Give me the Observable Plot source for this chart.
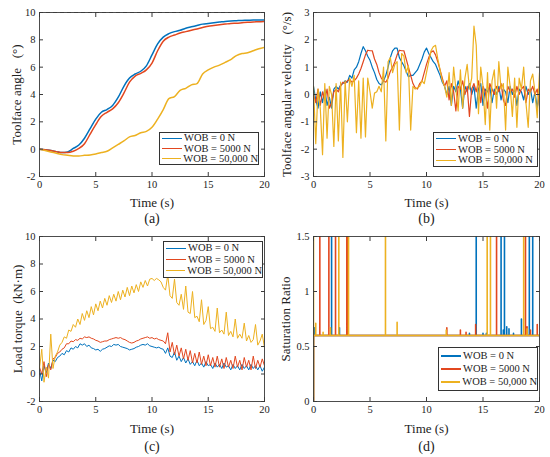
<!DOCTYPE html>
<html><head><meta charset="utf-8">
<script src="https://cdn.jsdelivr.net/npm/d3@7"></script>
<script src="https://cdn.jsdelivr.net/npm/@observablehq/plot@0.6"></script>
<style>
body{margin:0;background:#fff;}
#root{position:relative;width:550px;height:457px;font-family:"Liberation Serif","Times New Roman","Tinos","DejaVu Serif",serif;color:#222;overflow:hidden;}
#root svg, #root svg text{font-family:"Liberation Serif","Times New Roman","Tinos","DejaVu Serif",serif;}
.panel{position:absolute;}
.legend{position:absolute;border:1px solid #333;background:#fff;box-sizing:border-box;display:flex;flex-direction:column;justify-content:space-evenly;font-size:10.5px;line-height:10px;white-space:nowrap;}
.row{display:flex;align-items:center;height:10px;}
.sw{display:inline-block;width:20px;margin:0 2px 0 2px;}
</style></head><body><div id="root"></div>
<script>
// ---------- shared ----------
const series = ["WOB = 0 N", "WOB = 5000 N", "WOB = 50,000 N"];
const colors = ["#0072BD", "#E2471F", "#EDB120"];
const xTicks = [0, 5, 10, 15, 20];
const FONT = '"Liberation Serif", "Times New Roman", Tinos, "DejaVu Serif", serif';

// ---------- (a) Toolface angle ----------
const aTime = [0,0.5,1,1.5,2,2.5,3,3.5,4,4.5,5,5.5,6,6.5,7,7.5,8,8.5,9,9.5,10,10.5,11,11.5,12,12.5,13,13.5,14,14.5,15,15.5,16,16.5,17,17.5,18,18.5,19,19.5,20];
const aBlue = [0,-0.05,-0.1,-0.18,-0.25,-0.2,0.05,0.3,0.8,1.5,2.2,2.7,2.9,3.2,3.8,4.6,5.2,5.5,5.7,6.1,6.9,7.7,8.2,8.45,8.6,8.7,8.85,8.95,9.05,9.15,9.2,9.25,9.3,9.35,9.38,9.4,9.42,9.43,9.45,9.45,9.45];
const aRed = [0,-0.05,-0.1,-0.18,-0.25,-0.25,-0.15,0.05,0.4,1.1,1.8,2.4,2.7,2.95,3.4,4.1,4.9,5.35,5.55,5.8,6.3,7.2,7.9,8.2,8.35,8.5,8.6,8.7,8.8,8.9,9.0,9.05,9.1,9.15,9.2,9.22,9.25,9.28,9.3,9.33,9.35];
const aYellow = [0,-0.1,-0.2,-0.3,-0.4,-0.45,-0.5,-0.5,-0.45,-0.42,-0.35,-0.25,-0.15,0.1,0.35,0.6,0.9,1.0,1.2,1.3,1.6,2.2,2.9,3.7,3.85,4.3,4.45,4.7,4.8,5.5,5.8,6.0,6.15,6.35,6.55,6.85,7.0,7.05,7.2,7.35,7.45];
const aRef = [10];
const aYTicks = [-2, 0, 2, 4, 6, 8, 10];

// ---------- (b) Toolface angular velocity (sampled every 0.2 s) ----------
const bTime = d3.range(101).map(i => i / 5);
const bBlue = [
 0.3,-0.2,-0.5,0.1,-0.3,0.2,-0.4,-0.1,-0.5,0.2,
 0.3,0.2,0.35,0.4,0.5,0.45,0.7,0.6,0.9,1.0,
 1.2,1.5,1.75,1.6,1.4,1.25,1.0,0.8,0.55,0.4,
 0.35,0.5,0.7,1.0,1.35,1.6,1.7,1.7,1.35,1.2,
 1.05,0.85,0.65,0.7,0.7,0.8,0.9,1.1,1.3,1.55,
 1.7,1.5,1.35,1.2,1.1,0.9,0.7,0.45,0.3,0.0,
 0.3,-0.4,0.3,0.1,0.5,0.2,-0.5,0.3,0.1,0.4,
 0.0,0.3,-0.5,0.2,0.4,-0.4,0.2,0.1,0.3,-0.3,
 0.2,0.0,0.3,-0.2,0.2,0.1,-0.3,0.3,0.0,0.2,
 -0.4,0.2,0.1,-0.2,0.3,0.0,0.2,-0.3,0.1,-0.5,
 0.2];
const bRed = [
 0.0,-0.3,0.2,-0.4,0.1,-0.2,0.2,-0.5,-0.3,0.1,
 0.2,0.1,0.3,0.45,0.4,0.5,0.55,0.45,0.5,0.6,
 0.75,0.95,1.2,1.45,1.62,1.6,1.6,1.3,1.1,0.8,
 0.6,0.5,0.45,0.6,0.85,1.0,1.2,1.45,1.62,1.6,
 1.6,1.3,1.0,0.7,0.4,0.25,0.2,0.4,0.5,0.8,
 1.1,1.35,1.55,1.6,1.45,1.2,0.9,0.6,0.3,0.5,
 -0.2,0.4,0.1,-0.6,0.3,0.2,0.5,0.0,0.3,-0.8,
 0.2,0.4,0.1,0.5,-0.3,0.3,0.1,-0.5,0.4,0.2,
 0.0,0.3,0.1,0.4,-0.2,-0.4,0.3,0.1,0.2,-0.1,
 0.3,0.0,0.2,0.3,-0.3,0.2,0.1,0.3,0.0,0.2,
 -0.4];
const bYellow = [
 0.3,-1.8,0.2,-0.5,-2.2,0.4,-1.6,0.3,0.0,-1.9,
 0.4,-1.7,0.45,-2.3,0.5,-1.0,0.6,0.3,0.7,-1.4,
 0.5,-1.6,0.6,-1.55,0.6,0.1,-0.5,0.05,0.1,0.3,
 0.1,1.0,-1.7,1.2,1.35,0.8,1.1,1.2,-1.3,1.5,
 1.4,0.8,1.05,-1.3,0.3,0.2,0.25,0.3,0.5,0.4,
 0.8,1.2,1.6,1.75,1.8,1.3,0.9,0.5,0.3,-0.1,
 0.8,-0.4,1.0,0.2,-0.6,0.9,-0.5,0.6,1.1,0.2,
 0.6,2.5,1.8,-0.7,1.0,0.3,-1.1,0.8,-1.3,0.5,
 0.9,-0.5,1.2,0.2,0.4,-1.3,1.0,0.3,-0.8,0.6,
 -1.2,0.6,0.2,1.0,-0.3,-1.2,0.5,0.75,0.1,-0.85,
 0.8];
const bYTicks = [-3, -2, -1, 0, 1, 2, 3];

// ---------- (c) Load torque (sampled every 0.2 s) ----------
const cTime = d3.range(101).map(i => i / 5);
const cBlue = [
 0.3,-0.5,0.6,0.1,0.8,0.4,1.0,0.9,1.2,1.3,
 1.5,1.4,1.7,1.6,1.9,1.8,2.0,1.9,2.2,2.1,
 2.2,2.0,2.1,1.9,1.85,1.75,1.8,1.65,1.8,1.85,
 1.95,2.05,2.0,2.15,2.1,2.15,2.0,1.95,1.9,1.85,
 1.75,1.8,1.85,1.95,2.0,2.1,2.15,2.1,2.2,2.05,
 2.0,1.95,1.9,1.95,1.85,1.8,1.5,1.9,1.3,1.2,
 1.6,1.0,1.3,0.9,1.2,0.8,1.1,0.7,0.9,0.6,
 1.0,0.6,0.8,0.5,0.9,0.6,0.7,0.4,0.8,0.5,
 0.7,0.4,0.8,0.5,0.6,0.3,0.7,0.4,0.6,0.3,
 0.7,0.4,0.6,0.3,0.7,0.4,0.6,0.3,0.6,0.2,
 0.5];
const cRed = [
 0.5,0.0,0.9,-0.2,0.7,0.3,1.1,1.2,1.5,1.6,
 1.8,1.9,2.2,2.2,2.4,2.35,2.5,2.45,2.6,2.55,
 2.7,2.65,2.7,2.6,2.55,2.45,2.4,2.3,2.35,2.4,
 2.4,2.5,2.55,2.6,2.65,2.6,2.65,2.55,2.5,2.4,
 2.3,2.25,2.3,2.4,2.45,2.55,2.6,2.65,2.7,2.6,
 2.65,2.55,2.6,2.5,2.45,2.4,2.2,3.0,1.6,2.3,
 1.4,2.1,1.3,1.9,1.1,1.8,1.0,1.7,0.8,1.5,
 0.8,1.6,0.7,1.3,0.6,1.4,0.6,1.2,0.5,1.3,
 0.5,1.1,0.4,1.2,0.5,1.0,0.4,1.3,0.5,1.0,
 0.3,1.2,0.5,1.0,0.3,1.3,0.4,1.0,0.5,1.1,
 0.6];
const cYellow = [
 0.4,1.8,-0.6,0.5,-0.3,2.9,0.4,1.3,1.6,2.1,
 2.3,2.7,2.6,3.2,3.1,3.6,3.4,4.0,3.6,4.4,
 3.9,4.6,4.1,4.9,4.3,5.1,4.6,5.3,4.8,5.5,
 5.0,5.7,5.2,5.8,5.3,6.0,5.4,6.1,5.6,6.3,
 5.7,6.4,5.9,6.5,6.0,6.7,6.3,6.8,6.4,6.9,
 6.95,6.8,6.95,6.85,6.7,6.3,6.1,7.2,5.7,5.5,
 6.9,5.2,5.0,5.8,4.7,6.4,4.5,4.4,6.0,4.1,
 4.2,3.8,5.4,3.6,3.9,4.9,3.3,3.4,3.1,4.8,
 3.0,3.2,2.9,4.5,2.8,3.1,2.7,4.0,2.6,2.9,
 2.6,3.7,2.4,2.8,2.3,2.5,3.6,2.1,2.4,2.9,
 1.9];
const cYTicks = [-2, 0, 2, 4, 6, 8, 10];

// ---------- (d) Saturation ratio: baseline with spikes ----------
const dBaseline = 0.6;
const dStart = 0;
const dBlueTime = [0.1,1.6,2.3,13.8,14.4,15.0,15.3,16.6,16.8,16.9,17.1,17.3,17.7,18.4,19.1,19.4];
const dBlueRatio = [0.67,1.5,0.67,0.62,1.5,0.62,0.62,1.5,0.65,1.5,0.68,0.66,0.62,0.75,1.5,1.5];
const dRedTime = [0.56,1.36,1.95,2.95,3.05,11.8,13.0,13.5,14.35,16.2,18.76,18.9,19.2,19.8];
const dRedRatio = [1.5,1.5,1.5,1.5,1.5,0.67,0.65,0.63,0.70,1.5,1.5,0.68,0.65,0.70];
const dYellowTime = [0,0.2,0.85,1.5,2.24,3.1,6.37,7.4,11.75,15.37,15.66,18.6,18.9];
const dYellowRatio = [1.5,0.71,0.63,0.67,1.5,1.5,1.5,0.72,0.65,1.5,1.5,1.5,0.66];
const dYTicks = [0, 0.5, 1, 1.5];

// ---------- helpers ----------
const toRows = (ts, vs) => ts.map((t, i) => ({t, v: vs[i]}));
function spikeRows(ts, hs) {
  const rows = [{t: 0, v: dStart}, {t: 0, v: dBaseline}];
  ts.forEach((t, i) => { rows.push({t, v: dBaseline}, {t, v: hs[i]}, {t, v: dBaseline}); });
  rows.push({t: 20, v: dBaseline});
  return rows;
}

const root = document.getElementById("root");
function panel(o) {
  const fmt = d => String(d);
  const svg = Plot.plot({
    width: o.w, height: o.h,
    marginTop: o.mt, marginBottom: o.mb, marginLeft: o.ml, marginRight: o.mr,
    x: {domain: [0, 20], label: null},
    y: {domain: o.yDomain, label: null},
    style: {fontFamily: FONT, fontSize: "10.5px", color: "#222", background: "transparent", overflow: "visible"},
    marks: [
      ...o.marks,
      Plot.frame({stroke: "#3a3a3a", strokeWidth: 0.9}),
      Plot.axisX({ticks: xTicks, anchor: "bottom", tickSize: 0, tickPadding: 4, stroke: "none", label: null, tickFormat: fmt}),
      Plot.axisX({ticks: xTicks, anchor: "bottom", tickSize: 4, dy: -4, fill: "none", label: null, stroke: "#3a3a3a"}),
      Plot.axisX({ticks: xTicks, anchor: "top", tickSize: 4, dy: 4, fill: "none", label: null, stroke: "#3a3a3a"}),
      Plot.axisY({ticks: o.yTicks, anchor: "left", tickSize: 0, tickPadding: 4, stroke: "none", label: null, tickFormat: fmt}),
      Plot.axisY({ticks: o.yTicks, anchor: "left", tickSize: 4, dx: 4, fill: "none", label: null, stroke: "#3a3a3a"}),
      Plot.axisY({ticks: o.yTicks, anchor: "right", tickSize: 4, dx: -4, fill: "none", label: null, stroke: "#3a3a3a"}),
      Plot.text(["Time (s)"], {text: d => d, frameAnchor: "bottom", dy: o.tdy, fontSize: 13, fontFamily: FONT, textAnchor: "middle", lineAnchor: "middle", fill: "#222"}),
      Plot.text([o.cap], {text: d => d, frameAnchor: "bottom", dy: o.cdy, fontSize: 14, fontFamily: FONT, textAnchor: "middle", lineAnchor: "middle", fill: "#222"}),
      Plot.text([o.ylabel], {text: d => d, frameAnchor: "left", dx: o.ydx, rotate: -90, fontSize: 13, fontFamily: FONT, textAnchor: "middle", lineAnchor: "middle", fill: "#222"})
    ]
  });
  svg.classList.add("panel");
  svg.style.left = o.left + "px";
  svg.style.top = o.top + "px";
  svg.style.whiteSpace = "pre";
  root.appendChild(svg);

  const lg = document.createElement("div");
  lg.className = "legend";
  Object.assign(lg.style, {left: o.lg[0] + "px", top: o.lg[1] + "px", width: o.lg[2] + "px", height: o.lg[3] + "px"});
  series.forEach((s, i) => {
    const r = document.createElement("div");
    r.className = "row";
    const sw = document.createElement("span");
    sw.className = "sw";
    sw.style.borderTop = `${o.lw}px solid ${colors[i]}`;
    const tx = document.createElement("span");
    tx.textContent = s;
    r.appendChild(sw); r.appendChild(tx);
    lg.appendChild(r);
  });
  root.appendChild(lg);
}

const lineMarks = (ts, arrs, sw, curve) => arrs.map((a, i) =>
  Plot.line(toRows(ts, a), {x: "t", y: "v", stroke: colors[i], strokeWidth: sw, clip: true, curve: curve || "linear"}));

panel({left: 0, top: 0, w: 275, h: 228, mt: 12, mb: 52, ml: 39, mr: 11,
  yDomain: [-2, 10], yTicks: aYTicks, ylabel: "Toolface angle   (°)", cap: "(a)", tdy: 26, cdy: 42, ydx: -23,
  marks: [
    Plot.ruleY(aRef, {stroke: "#555", strokeWidth: 1.2, strokeDasharray: "4,3"}),
    ...lineMarks(aTime, [aBlue, aRed, aYellow], 1.5, "monotone-x")
  ],
  lg: [159, 132, 100, 33], lw: 1.5});

panel({left: 275, top: 0, w: 275, h: 228, mt: 12, mb: 52, ml: 38, mr: 11,
  yDomain: [-3, 3], yTicks: bYTicks, ylabel: "Toolface angular velocity   (°/s)", cap: "(b)", tdy: 26, cdy: 42, ydx: -27,
  marks: lineMarks(bTime, [bBlue, bRed, bYellow], 1.2),
  lg: [433, 132, 105, 35], lw: 1.5});

panel({left: 0, top: 228, w: 275, h: 229, mt: 8, mb: 56, ml: 39, mr: 11,
  yDomain: [-2, 10], yTicks: cYTicks, ylabel: "Load torque  (kN·m)", cap: "(c)", tdy: 27, cdy: 45, ydx: -22,
  marks: lineMarks(cTime, [cBlue, cRed, cYellow], 1.0),
  lg: [163, 241, 100, 37], lw: 1.5});

panel({left: 275, top: 228, w: 275, h: 229, mt: 8, mb: 56, ml: 38, mr: 11,
  yDomain: [0, 1.5], yTicks: dYTicks, ylabel: "Saturation Ratio", cap: "(d)", tdy: 27, cdy: 45, ydx: -28,
  marks: [
    Plot.line(spikeRows(dBlueTime, dBlueRatio), {x: "t", y: "v", stroke: colors[0], strokeWidth: 1.6, clip: true}),
    Plot.line(spikeRows(dRedTime, dRedRatio), {x: "t", y: "v", stroke: colors[1], strokeWidth: 1.6, clip: true}),
    Plot.line(spikeRows(dYellowTime, dYellowRatio), {x: "t", y: "v", stroke: colors[2], strokeWidth: 1.6, clip: true})
  ],
  lg: [438, 347, 100, 44], lw: 2});
</script></body></html>
